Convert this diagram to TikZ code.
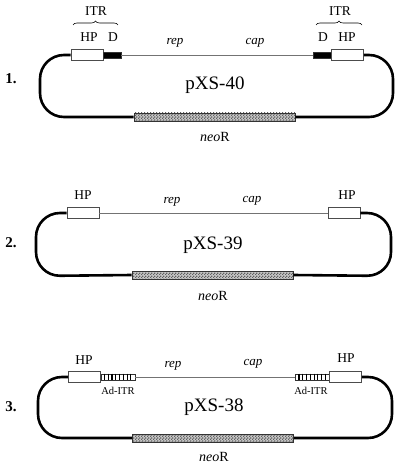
\documentclass[tikz,border=0pt]{standalone}
\usepackage{fontspec}
\setmainfont{Liberation Serif}
\usetikzlibrary{patterns,decorations.pathreplacing}
\pgfdeclarepatternformonly{finechecker}{\pgfpointorigin}{\pgfqpoint{3pt}{3pt}}{\pgfqpoint{3pt}{3pt}}{%
  \pgfpathrectangle{\pgfpointorigin}{\pgfqpoint{1.5pt}{1.5pt}}%
  \pgfpathrectangle{\pgfqpoint{1.5pt}{1.5pt}}{\pgfqpoint{1.5pt}{1.5pt}}%
  \pgfusepath{fill}}
\begin{document}
\begin{tikzpicture}[x=1pt,y=-1pt,
 hpbox/.style={draw=black!70,line width=0.7pt,fill=white,minimum width=32pt,minimum height=11pt,inner sep=0pt},
 dbar/.style={fill=black,draw=black!80,line width=0.5pt,minimum width=18pt,minimum height=6pt,inner sep=0pt},
 adbar/.style={draw=black!80,fill=white,line width=0.6pt,minimum width=34pt,minimum height=6pt,inner sep=0pt},
 neobox/.style={draw=black!80,line width=0.6pt,preaction={fill=black!22},pattern=finechecker,pattern color=black!62,minimum width=161pt,minimum height=8pt,inner sep=0pt},
 thinline/.style={draw=black!55,line width=0.9pt},
 loopline/.style={draw=black,line width=2.6pt,rounded corners=24pt},
 stripe/.style={draw=black,line width=1.1pt},
 lbl/.style={inner sep=0pt,font=\fontsize{13.5}{14}\selectfont},
 gene/.style={inner sep=0pt,font=\fontsize{13}{14}\selectfont\itshape},
 plas/.style={inner sep=0pt,font=\fontsize{19}{20}\selectfont},
 neolbl/.style={inner sep=0pt,font=\fontsize{14}{15}\selectfont},
 adlbl/.style={inner sep=0pt,font=\fontsize{10.5}{11}\selectfont},
 num/.style={inner sep=0pt,font=\fontsize{15}{16}\selectfont\bfseries},
 bracestyle/.style={draw=black,line width=0.6pt,decorate,decoration={brace,amplitude=4pt}}
]
\useasboundingbox (0,0) rectangle (400,470);

% ---------- 1 ----------
\node[num] (n1) at (11,79) {1.};
\node[hpbox] (h1l) at (87,55) {};
\node[dbar] (d1l) at (112,55) {};
\node[dbar] (d1r) at (322.5,55) {};
\node[hpbox] (h1r) at (347.5,55) {};
\node[neobox] (neo1) at (214.5,117) {};
\draw[thinline] (d1l.east) -- (d1r.west);
\draw[loopline] (h1l.west) -- (40,55) -- (40,117) -- (neo1.west);
\draw[loopline] (h1r.east) -- (393,55) -- (393,117) -- (neo1.east);
\node[lbl] (itr1l) at (96,11) {ITR};
\node[lbl] (itr1r) at (340,11) {ITR};
\coordinate (b1la) at (73,25);
\coordinate (b1lb) at (118,25);
\coordinate (b1ra) at (316,25);
\coordinate (b1rb) at (362,25);
\draw[bracestyle] (b1la) -- (b1lb);
\draw[bracestyle] (b1ra) -- (b1rb);
\node[lbl] (hp1l) at (89,37) {HP};
\node[lbl] (dd1l) at (113,37) {D};
\node[lbl] (dd1r) at (323,37) {D};
\node[lbl] (hp1r) at (347,37) {HP};
\node[gene] (rep1) at (175,43) {rep};
\node[gene] (cap1) at (255,43) {cap};
\node[plas] (p1) at (215,85) {pXS-40};
\node[neolbl] (neol1) at (215,137) {\textit{neo}R};

% ---------- 2 ----------
\node[num] (n2) at (11,243) {2.};
\node[hpbox] (h2l) at (83,213) {};
\node[hpbox] (h2r) at (344,213) {};
\node[neobox] (neo2) at (212.5,275) {};
\draw[thinline] (h2l.east) -- (h2r.west);
\draw[loopline] (h2l.west) -- (36,213) -- (36,276) -- (neo2.west);
\draw[loopline] (h2r.east) -- (391,213) -- (391,276) -- (neo2.east);
\node[lbl] (hp2l) at (83,195) {HP};
\node[lbl] (hp2r) at (347,195) {HP};
\node[gene] (rep2) at (172,202) {rep};
\node[gene] (cap2) at (252,201) {cap};
\node[plas] (p2) at (213,245) {pXS-39};
\node[neolbl] (neol2) at (213,296) {\textit{neo}R};

% ---------- 3 ----------
\node[num] (n3) at (11,407) {3.};
\node[hpbox] (h3l) at (84.5,377) {};
\node[adbar] (a3l) at (118,377) {};
\node[adbar] (a3r) at (312.5,377) {};
\node[hpbox] (h3r) at (345.5,377) {};
\foreach \k in {1,...,8} {
  \draw[stripe] ([xshift=\k*3.78pt]a3l.north west) -- ([xshift=\k*3.78pt]a3l.south west);
  \draw[stripe] ([xshift=\k*3.78pt]a3r.north west) -- ([xshift=\k*3.78pt]a3r.south west);
}
\node[neobox] (neo3) at (213,438) {};
\draw[thinline] (a3l.east) -- (a3r.west);
\draw[loopline] (h3l.west) -- (38,377) -- (38,438) -- (neo3.west);
\draw[loopline] (h3r.east) -- (392,377) -- (392,438) -- (neo3.east);
\node[lbl] (hp3l) at (84,360) {HP};
\node[lbl] (hp3r) at (346,358) {HP};
\node[adlbl] (ad3l) at (118,391) {Ad-ITR};
\node[adlbl] (ad3r) at (311,391) {Ad-ITR};
\node[gene] (rep3) at (173,366) {rep};
\node[gene] (cap3) at (253,364) {cap};
\node[plas] (p3) at (214,407) {pXS-38};
\node[neolbl] (neol3) at (214,457) {\textit{neo}R};
\end{tikzpicture}
\end{document}
